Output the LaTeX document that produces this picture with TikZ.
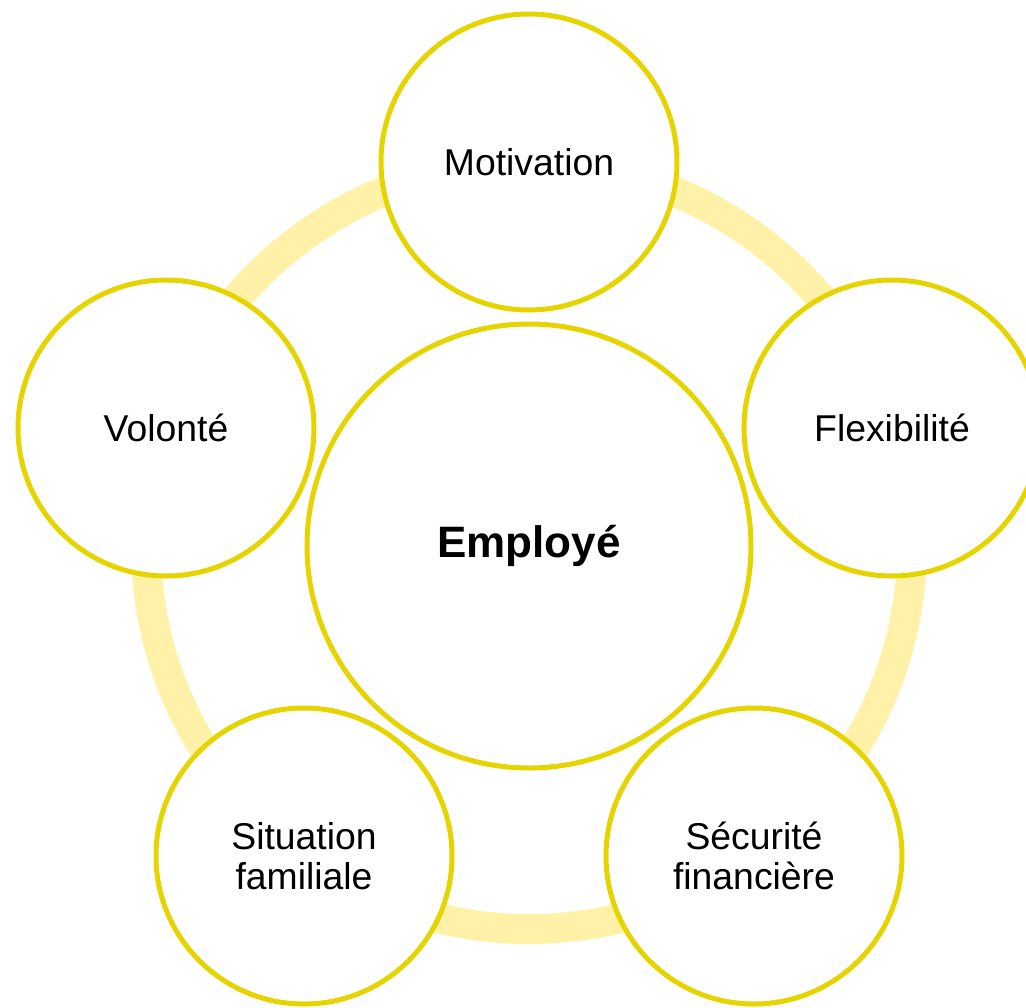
\documentclass[tikz,border=0pt]{standalone}
\usepackage{fontspec}
\setmainfont{Liberation Sans}
\usepackage{tikz}

\definecolor{ringyellow}{RGB}{255,242,168}
\definecolor{rimyellow}{RGB}{230,212,0}

\tikzset{
  bubble/.style={circle, draw=rimyellow, fill=white, line width=3.75pt,
    minimum size=222pt, inner sep=0pt, align=center,
    font=\fontsize{28}{30}\selectfont},
  core/.style={bubble, minimum size=333pt, font=\fontsize{33}{40}\selectfont\bfseries}
}

\begin{document}
\begin{tikzpicture}[x=0.75pt,y=-0.75pt]
    \useasboundingbox (0,0) rectangle (1026,1008);

    \draw[ringyellow, line width=22.5pt] (529,546) circle [radius=287.25pt];

    \node[core] (employe) at (529,546) {Employé};

    \node[bubble] (motivation) at (529,162) {Motivation};
    \node[bubble] (flexibilite) at (892,428) {Flexibilité};
    \node[bubble] (securite) at (754,856) {Sécurité\\financière};
    \node[bubble] (situation) at (304,856) {Situation\\familiale};
    \node[bubble] (volonte) at (166,428) {Volonté};
\end{tikzpicture}
\end{document}
